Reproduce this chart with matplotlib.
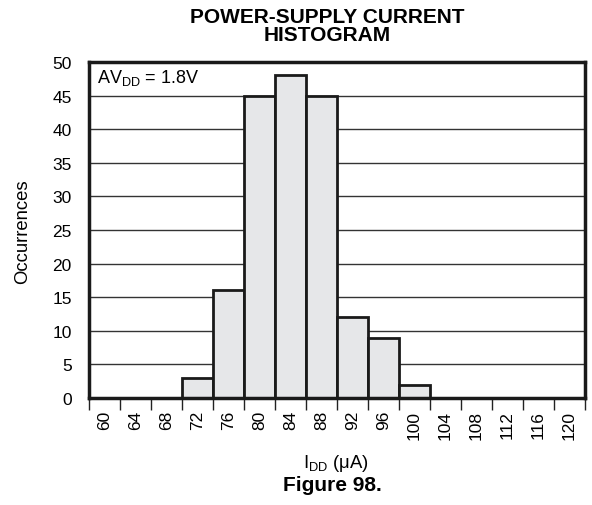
import matplotlib
matplotlib.use("Agg")
import matplotlib.pyplot as plt
import numpy as np

plt.rcParams['font.family'] = ['Liberation Sans', 'DejaVu Sans']
plt.rcParams['mathtext.fontset'] = 'custom'
plt.rcParams['mathtext.rm'] = 'Liberation Sans'
plt.rcParams['mathtext.it'] = 'Liberation Sans'

categories = ['60', '64', '68', '72', '76', '80', '84', '88', '92', '96', '100',
              '104', '108', '112', '116', '120']
counts = [0, 0, 0, 3, 16, 45, 48, 45, 12, 9, 2, 0, 0, 0, 0, 0]
yticks = [0, 5, 10, 15, 20, 25, 30, 35, 40, 45, 50]

fig = plt.figure(figsize=(5.92, 5.06), dpi=100)
ax = fig.add_axes([89/592, 107/506, (585-89)/592, (399-63)/506])

for y in yticks[1:-1]:
    ax.axhline(y, color='#333333', lw=1.0, zorder=1)

x = np.arange(len(categories))
vals = np.array(counts)
mask = vals > 0
ax.bar(x[mask], vals[mask], width=1.0, align='center',
       color='#e6e7e9', edgecolor='#1a1a1a', linewidth=2.0, zorder=2)

ax.set_xlim(-0.5, len(categories) - 0.5)
ax.set_ylim(0, 50)
ax.set_xticks(np.arange(len(categories) + 1) - 0.5)
ax.set_xticklabels([])
ax.set_xticks(x, minor=True)
ax.set_xticklabels(categories, minor=True, rotation=90, fontsize=12.5)
ax.set_yticks(yticks)
ax.set_yticklabels([str(v) for v in yticks], fontsize=12.5)
ax.tick_params(axis='x', which='major', direction='out', length=8.5, width=1.0, color='#222222')
ax.tick_params(axis='x', which='minor', length=0, pad=8.5)
ax.tick_params(axis='y', length=0, pad=12.5)
for s in ax.spines.values():
    s.set_linewidth(2.5)
    s.set_color('#1a1a1a')

ax.text(97/592, 1 - 83/506, r'AV$_{\mathregular{DD}}$ = 1.8V', transform=fig.transFigure,
        ha='left', va='baseline', fontsize=13, zorder=5)

fig.text(23/592, 1 - 231.5/506, 'Occurrences', rotation=90, ha='center', va='center', fontsize=13.3)
fig.text(336/592, 1 - 463/506, r'I$_{\mathregular{DD}}$ ($\mu$A)', ha='center', va='center', fontsize=13.3)
fig.text(332/592, 1 - 486/506, 'Figure 98.', ha='center', va='center', fontsize=15, fontweight='bold')
fig.text(327/592, 1 - 26.5/506, 'POWER-SUPPLY CURRENT\nHISTOGRAM', ha='center', va='center',
         fontsize=15, fontweight='bold', linespacing=0.95)

fig.savefig('out.png', dpi=100)
